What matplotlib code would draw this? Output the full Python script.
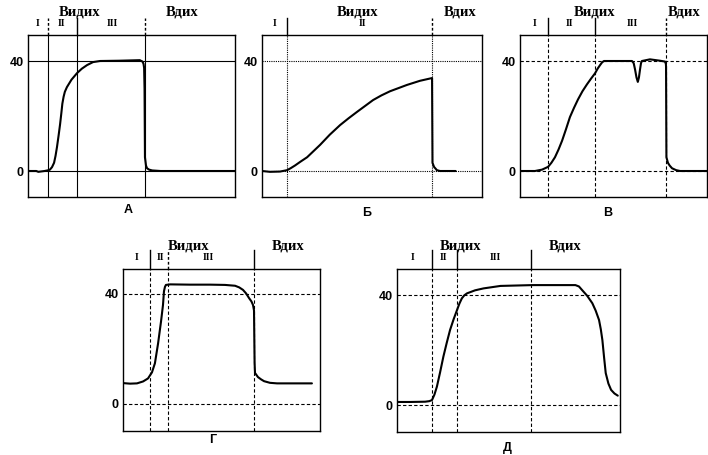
import matplotlib
matplotlib.use("Agg")
import matplotlib.pyplot as plt

# Capnogram shapes, time in % of panel width, CO2 in mm Hg
A_T = [0, 4, 5, 8, 10, 10.6, 11.6, 12.6, 13.3, 14, 14.8, 15.5, 16.1, 16.6, 17.2, 17.8,
       18.8, 21, 23.7, 26, 28.5, 31.4, 34.8, 44, 54, 55.3, 55.8, 56.1, 56.3, 56.5, 57,
       57.5, 58.5, 60, 64, 100]
A_CO2 = [0, 0, -0.3, 0, 0.3, 0.5, 1.4, 3, 5.5, 8.7, 13, 17, 21, 24.5, 27, 28.8,
         30.5, 33.2, 35.6, 37.2, 38.5, 39.6, 40, 40.1, 40.3, 39.8, 39, 37.5, 30, 5,
         2, 1, 0.5, 0.2, 0, 0]

B_T = [0, 3.6, 8.2, 11.4, 13, 15, 17.5, 20.5, 26.4, 30.8, 35.5, 39.4, 43.2, 50.5,
       54.3, 58.2, 65.9, 71.8, 77.3, 77.5, 78.2, 79.5, 80.9, 88]
B_CO2 = [0, -0.3, -0.2, 0.3, 1, 2, 3.4, 5, 9.5, 13.2, 16.7, 19.2, 21.5, 25.8,
         27.5, 29, 31.3, 32.8, 33.8, 3, 1.5, 0.3, 0, 0]

C_T = [0, 8, 11.8, 15, 16.8, 18.7, 20.6, 22.5, 24.6, 26.7, 28.9, 31, 33.4, 35.8,
       38, 40.1, 41.5, 42.8, 43.9, 44.9, 50.8, 59.9, 60.8, 61.5, 62.3, 63, 63.6,
       64.2, 64.7, 65.2, 69.5, 74.9, 77.5, 78, 78.1, 78.3, 79.1, 80, 81.3, 83.5, 85.6, 100]
C_CO2 = [0, 0, 0.5, 1.5, 3, 5, 7.8, 11, 15.2, 19.6, 23, 26, 29, 31.5,
         33.6, 35.5, 37.2, 38.5, 39.5, 40, 40, 40, 39.2, 37, 34, 32.4, 34, 37,
         39.2, 40, 40.6, 40.1, 39.8, 39, 38, 5, 3, 2, 1, 0.3, 0, 0]

D_T = [0, 3.6, 7.1, 10.2, 12.7, 14.7, 16.2, 17.8, 19.3, 20.3, 20.8, 21.3, 21.8,
       24, 34, 44.2, 51.8, 56.9, 59, 60.9, 62.5, 64, 65.2, 66, 66.5, 66.8, 67,
       68.5, 70, 71.6, 74.6, 78.2, 95.9]
D_CO2 = [7.6, 7.4, 7.5, 8.2, 9.3, 11.5, 14.8, 22, 30, 36, 41, 42.6, 43.3, 43.5,
         43.4, 43.4, 43.3, 43, 42.4, 41.5, 40.2, 38.5, 37.3, 36, 34, 15, 11.3,
         9.8, 9, 8.3, 7.7, 7.5, 7.5]

E_T = [0, 5.8, 12.6, 14.5, 15.7, 16.8, 17.9, 19.3, 20.8, 22.3, 23.8, 25.4, 26.9,
       28, 29.1, 30.2, 31.4, 35, 38.8, 46.4, 60.8, 80, 81.6, 83, 85.3, 87.6, 89.1,
       90.6, 91.4, 92.1, 92.9, 93.6, 94.8, 96, 97.5, 99]
E_CO2 = [1.1, 1.1, 1.2, 1.4, 1.8, 3.8, 6.7, 11.8, 17.6, 22.6, 27.3, 31.2, 34.5,
         36.9, 38.8, 39.9, 40.6, 41.7, 42.4, 43.3, 43.6, 43.6, 43.1, 41.8, 39.7,
         37, 34.3, 30.9, 27.5, 23.6, 17, 11.6, 7.8, 5.5, 4.2, 3.4]

# phase boundaries and labels
A_PHASE = [9.7, 23.7, 56.5]
B_PHASE = [11.4, 77.3]
C_PHASE = [15, 40.1, 78.1]
D_PHASE = [13.7, 22.8, 66.5]
E_PHASE = [15.7, 26.9, 60.1]

A_ROMAN = [(4.8, "I"), (16, "II"), (40.6, "III")]
B_ROMAN = [(5.9, "I"), (45.5, "II")]
C_ROMAN = [(8, "I"), (26.7, "II"), (60, "III")]
D_ROMAN = [(7.1, "I"), (18.8, "II"), (43.1, "III")]
E_ROMAN = [(7.2, "I"), (21, "II"), (44, "III")]

A_RESP = [(25, "Видих"), (74.4, "Вдих")]
B_RESP = [(43.6, "Видих"), (90, "Вдих")]
C_RESP = [(40, "Видих"), (88, "Вдих")]
D_RESP = [(33.5, "Видих"), (83.8, "Вдих")]
E_RESP = [(28.3, "Видих"), (75.3, "Вдих")]

LETTERS = ["А", "Б", "В", "Г", "Д"]

W, H = 708, 455
fig = plt.figure(figsize=(W / 100, H / 100), dpi=100)

SERIF = "Liberation Serif"
SANS = "Liberation Sans"

panels = [
    # box in pixels, y of 0 in pixels, data, grid style, divider styles, letter position
    dict(box=(28, 35, 235, 197), y0=171, t=A_T, co2=A_CO2, phase=A_PHASE,
         roman=A_ROMAN, resp=A_RESP, grid="-", div=["--", "-", "--"], letter=(128, 210)),
    dict(box=(262, 35, 482, 197), y0=171, t=B_T, co2=B_CO2, phase=B_PHASE,
         roman=B_ROMAN, resp=B_RESP, grid=":", div=["-", "--"], letter=(367, 213)),
    dict(box=(520, 35, 707, 197), y0=171, t=C_T, co2=C_CO2, phase=C_PHASE,
         roman=C_ROMAN, resp=C_RESP, grid="--", div=["-", "-", "--"], letter=(608, 213)),
    dict(box=(123, 269, 320, 431), y0=404, t=D_T, co2=D_CO2, phase=D_PHASE,
         roman=D_ROMAN, resp=D_RESP, grid="--", div=["-", "--", "-"], letter=(213, 440)),
    dict(box=(397, 269, 620, 432), y0=405, t=E_T, co2=E_CO2, phase=E_PHASE,
         roman=E_ROMAN, resp=E_RESP, grid="--", div=["-", "-", "-"], letter=(507, 448)),
]

PX = 110 / 40.0  # pixels per mm Hg

for p, letter in zip(panels, LETTERS):
    x0, y_top, x1, y_bot = p["box"]
    ax = fig.add_axes([x0 / W, 1 - y_bot / H, (x1 - x0) / W, (y_bot - y_top) / H])
    ymax = (p["y0"] - y_top) / PX
    ymin = (p["y0"] - y_bot) / PX
    ax.set_xlim(0, 100)
    ax.set_ylim(ymin, ymax)

    dash = (0, (3, 2)) if p["grid"] == "--" else (0, (1, 1)) if p["grid"] == ":" else "-"
    gw = 0.8
    ax.axhline(40, color="black", lw=gw, ls=dash)
    ax.axhline(0, color="black", lw=gw, ls=dash)
    for b in p["phase"]:
        ax.axvline(b, color="black", lw=gw, ls=dash)

    ax.plot(p["t"], p["co2"], color="black", lw=1.5, solid_capstyle="round",
            solid_joinstyle="round")

    # short dividers above the box
    top = ymax
    hgt = 17 / PX if y_top < 100 else 19 / PX
    for b, st in zip(p["phase"], p["div"]):
        ls = (0, (2, 1.5)) if st == "--" else "-"
        ax.plot([b, b], [top, top + hgt], color="black", lw=1.0, ls=ls, clip_on=False)

    for x, s in p["roman"]:
        ax.text(x, top + 11 / PX, s, ha="center", va="center", fontsize=7,
                fontweight="bold", family=SERIF)
    for x, s in p["resp"]:
        ax.text(x, top + 23 / PX, s, ha="center", va="center", fontsize=10.5,
                fontweight="bold", family=SERIF)

    ax.set_xticks([])
    ax.set_yticks([0, 40])
    ax.set_yticklabels(["0", "40"], fontsize=9, fontweight="bold", family=SANS)
    ax.tick_params(axis="y", length=0, pad=3)
    for sp in ax.spines.values():
        sp.set_linewidth(1.0)

    lx, ly = p["letter"]
    fig.text(lx / W, 1 - ly / H, letter, ha="center", va="center", fontsize=9,
             fontweight="bold", family=SANS)

fig.savefig("out.png", dpi=100)
